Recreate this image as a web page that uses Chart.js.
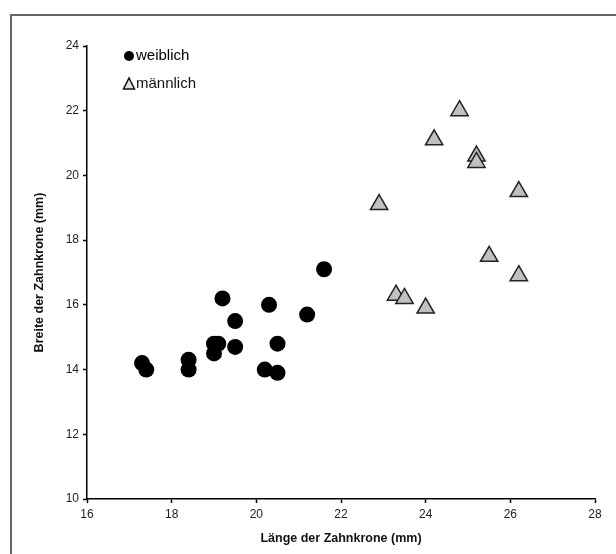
<!DOCTYPE html>
<html lang="de">
<head>
    <meta charset="UTF-8">
    <title>Zahnkrone</title>
    <script src="https://cdn.jsdelivr.net/npm/chart.js"></script>
    <style>
        body { margin: 0; background: #fff; overflow: hidden; }
        #rahmen { position: absolute; left: 10px; top: 14px; width: 700px; height: 700px;
                  border-left: 2px solid #666; border-top: 2px solid #666; }
        #box { position: absolute; left: 0; top: 0; width: 616px; height: 554px; }
    </style>
</head>
<body>
    <div id="rahmen"></div>
    <div id="box"><canvas id="zahnChart" width="616" height="554"></canvas></div>

    <script>
        // Daten
        const weiblichLaenge = [17.3, 17.4, 18.4, 18.4, 19.0, 19.0, 19.1, 19.2, 19.5, 19.5, 20.2, 20.3, 20.5, 20.5, 21.2, 21.6];
        const weiblichBreite = [14.2, 14.0, 14.3, 14.0, 14.5, 14.8, 14.8, 16.2, 15.5, 14.7, 14.0, 16.0, 14.8, 13.9, 15.7, 17.1];
        const maennlichLaenge = [22.9, 23.3, 23.5, 24.0, 24.2, 24.8, 25.2, 25.2, 25.5, 26.2, 26.2];
        const maennlichBreite = [19.1, 16.3, 16.2, 15.9, 21.1, 22.0, 20.6, 20.4, 17.5, 19.5, 16.9];
        const serienNamen = ['weiblich', 'männlich'];

        const punkte = (xs, ys) => xs.map((x, i) => ({ x: x, y: ys[i] }));

        // Legende oben links im Diagramm
        const legendePlugin = {
            id: 'legendeInnen',
            afterDraw(chart) {
                const ctx = chart.ctx;
                ctx.save();
                ctx.font = '15px "Liberation Sans", Arial, sans-serif';
                ctx.fillStyle = '#111';
                ctx.textBaseline = 'middle';
                // Kreis
                ctx.beginPath();
                ctx.arc(129, 56, 5, 0, Math.PI * 2);
                ctx.fillStyle = '#000';
                ctx.fill();
                ctx.fillText(serienNamen[0], 136, 56);
                // Dreieck
                ctx.beginPath();
                ctx.moveTo(129, 78);
                ctx.lineTo(134.5, 89);
                ctx.lineTo(123.5, 89);
                ctx.closePath();
                ctx.fillStyle = '#e0e0e0';
                ctx.fill();
                ctx.lineWidth = 1.5;
                ctx.strokeStyle = '#111';
                ctx.stroke();
                ctx.fillStyle = '#111';
                ctx.fillText(serienNamen[1], 136, 84);
                ctx.restore();
            }
        };

        const achse = {
            type: 'linear',
            grid: { display: true, drawOnChartArea: false, drawTicks: true, tickLength: 4, tickColor: '#000', tickWidth: 1.5 },
            border: { display: true, color: '#000', width: 1.5 },
            ticks: { stepSize: 2, color: '#222', padding: 4, font: { family: '"Liberation Sans", Arial', size: 12 } }
        };

        new Chart(document.getElementById('zahnChart'), {
            type: 'scatter',
            data: {
                datasets: [{
                    label: serienNamen[0],
                    data: punkte(weiblichLaenge, weiblichBreite),
                    pointStyle: 'circle',
                    pointRadius: 8,
                    pointHoverRadius: 8,
                    backgroundColor: '#000',
                    borderColor: '#000',
                    borderWidth: 0
                }, {
                    label: serienNamen[1],
                    data: punkte(maennlichLaenge, maennlichBreite),
                    pointStyle: 'triangle',
                    pointRadius: 10,
                    pointHoverRadius: 10,
                    backgroundColor: '#c0c0c0',
                    borderColor: '#222',
                    borderWidth: 1.5
                }]
            },
            options: {
                responsive: false,
                animation: false,
                layout: { padding: { left: 0, top: 46, right: 21, bottom: 0 } },
                plugins: { legend: { display: false }, tooltip: { enabled: false } },
                scales: {
                    x: Object.assign({}, achse, {
                        min: 16, max: 28,
                        afterFit(s) { s.height = 55; },
                        title: { display: true, text: 'Länge der Zahnkrone (mm)', color: '#111',
                                 font: { family: '"Liberation Sans", Arial', size: 12.5, weight: 'bold' },
                                 padding: { top: 4, bottom: 8 } }
                    }),
                    y: Object.assign({}, achse, {
                        min: 10, max: 24,
                        afterFit(s) { s.width = 87; },
                        title: { display: true, text: 'Breite der Zahnkrone (mm)', color: '#111',
                                 font: { family: '"Liberation Sans", Arial', size: 12.5, weight: 'bold' },
                                 padding: { top: 32, bottom: 4 } }
                    })
                }
            },
            plugins: [legendePlugin]
        });
    </script>
</body>
</html>
